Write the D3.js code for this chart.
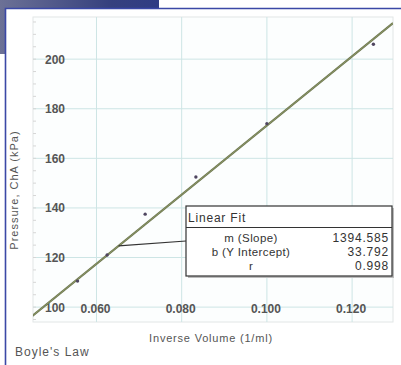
<!DOCTYPE html>
<html>
<head>
<meta charset="utf-8">
<script src="https://cdn.jsdelivr.net/npm/d3@7"></script>
<style>
  body { margin: 0; background: #fff; }
  svg { display: block; font-family: "Liberation Sans", Arial, sans-serif; }
</style>
</head>
<body>
<script>
// Boyle's Law: pressure vs inverse volume, with linear fit

const width = 401;
const height = 365;

// data
const inverseVolume = [1 / 18, 1 / 16, 1 / 14, 1 / 12, 1 / 10, 1 / 8];
const pressure = [110.5, 121, 137.5, 152.5, 174, 206];
const xTicks = [0.060, 0.080, 0.100, 0.120];
const yTicks = [100, 120, 140, 160, 180, 200];
const fitSlope = 1394.585;
const fitIntercept = 33.792;
const fitRows = [["m (Slope)", "1394.585"], ["b (Y Intercept)", "33.792"], ["r", "0.998"]];

const plot = { left: 33, right: 393, top: 17, bottom: 322 };

const svg = d3.select("body").append("svg")
    .attr("width", width)
    .attr("height", height);

// slide decoration in the top-left corner
const grad = svg.append("defs").append("linearGradient")
    .attr("id", "deco")
    .attr("x1", "0%").attr("x2", "100%");
grad.append("stop").attr("offset", "0%").attr("stop-color", "#6c7196");
grad.append("stop").attr("offset", "70%").attr("stop-color", "#35407e");
grad.append("stop").attr("offset", "100%").attr("stop-color", "#2f3c84");

svg.append("rect")
    .attr("x", 0).attr("y", 0)
    .attr("width", 159).attr("height", 54)
    .attr("fill", "url(#deco)");

// white panel with blue border
svg.append("rect")
    .attr("x", 5).attr("y", 8)
    .attr("width", width - 5).attr("height", height - 8)
    .attr("fill", "#fff");
svg.append("path")
    .attr("d", `M5.5,${height} V8.5 H${width}`)
    .attr("fill", "none")
    .attr("stroke", "#3b48a6")
    .attr("stroke-width", 1.6);

const x = d3.scaleLinear().domain([0.0451, 0.1296]).range([plot.left, plot.right]);
const y = d3.scaleLinear().domain([94, 217]).range([plot.bottom, plot.top]);

// plot background + frame
svg.append("rect")
    .attr("x", plot.left).attr("y", plot.top)
    .attr("width", plot.right - plot.left).attr("height", plot.bottom - plot.top)
    .attr("fill", "#fcfefe")
    .attr("stroke", "#e2e6e6");

svg.append("clipPath").attr("id", "clip")
    .append("rect")
    .attr("x", plot.left).attr("y", plot.top)
    .attr("width", plot.right - plot.left).attr("height", plot.bottom - plot.top);

// grid
svg.append("g").selectAll("line.h")
    .data(yTicks)
    .join("line")
    .attr("x1", plot.left).attr("x2", plot.right)
    .attr("y1", d => y(d)).attr("y2", d => y(d))
    .attr("stroke", "#cde5e5");
svg.append("g").selectAll("line.v")
    .data(xTicks)
    .join("line")
    .attr("x1", d => x(d)).attr("x2", d => x(d))
    .attr("y1", plot.top).attr("y2", plot.bottom)
    .attr("stroke", "#cde5e5");

// minor ticks along the left edge
svg.append("g").selectAll("line")
    .data(d3.range(95, 216, 5))
    .join("line")
    .attr("x1", plot.left).attr("x2", plot.left + 3)
    .attr("y1", d => y(d)).attr("y2", d => y(d))
    .attr("stroke", "#d6d6d6");

// tick labels (drawn inside the plot area)
svg.append("g").selectAll("text")
    .data(yTicks)
    .join("text")
    .attr("x", 65)
    .attr("y", d => y(d) + 4.5)
    .attr("text-anchor", "end")
    .attr("font-size", 12)
    .attr("font-weight", "bold")
    .attr("fill", "#555")
    .text(d => d);
svg.append("g").selectAll("text")
    .data(xTicks)
    .join("text")
    .attr("x", d => x(d) - 1)
    .attr("y", 313)
    .attr("text-anchor", "middle")
    .attr("font-size", 12)
    .attr("font-weight", "bold")
    .attr("fill", "#555")
    .text(d => d3.format(".3f")(d));

// fit line
const fit = v => fitSlope * v + fitIntercept;
svg.append("line")
    .attr("clip-path", "url(#clip)")
    .attr("x1", x(0.0440)).attr("y1", y(fit(0.0440)))
    .attr("x2", x(0.1296)).attr("y2", y(fit(0.1296)))
    .attr("stroke", "#6c7550")
    .attr("stroke-width", 2.2);
svg.append("line")
    .attr("clip-path", "url(#clip)")
    .attr("x1", x(0.0440)).attr("y1", y(fit(0.0440)))
    .attr("x2", x(0.1296)).attr("y2", y(fit(0.1296)))
    .attr("stroke", "#93a06a")
    .attr("stroke-width", 0.8);

// data points
svg.append("g").selectAll("circle")
    .data(inverseVolume.map((v, i) => [v, pressure[i]]))
    .join("circle")
    .attr("cx", d => x(d[0]))
    .attr("cy", d => y(d[1]))
    .attr("r", 1.7)
    .attr("fill", "#4f4660");

// fit annotation box
const box = { x: 186, y: 206, w: 206, h: 70 };
const anchorX = 0.0652;
svg.append("line")
    .attr("x1", x(anchorX)).attr("y1", y(fit(anchorX)))
    .attr("x2", box.x).attr("y2", 241)
    .attr("stroke", "#333")
    .attr("stroke-width", 1.2);

const bx = svg.append("g");
bx.append("rect")
    .attr("x", box.x + 2).attr("y", box.y + 2)
    .attr("width", box.w).attr("height", box.h)
    .attr("fill", "#bbb");
bx.append("rect")
    .attr("x", box.x).attr("y", box.y)
    .attr("width", box.w).attr("height", box.h)
    .attr("fill", "#fff")
    .attr("stroke", "#333")
    .attr("stroke-width", 1.2);
bx.append("line")
    .attr("x1", box.x).attr("x2", box.x + box.w)
    .attr("y1", 227.5).attr("y2", 227.5)
    .attr("stroke", "#333")
    .attr("stroke-width", 1.2);
bx.append("text")
    .attr("x", box.x + 2).attr("y", 221.5)
    .attr("font-size", 12)
    .attr("letter-spacing", 0.8)
    .attr("fill", "#333")
    .text("Linear Fit");
bx.selectAll("text.lbl")
    .data(fitRows)
    .join("text")
    .attr("class", "lbl")
    .attr("x", 251)
    .attr("y", (d, i) => 241.5 + i * 14)
    .attr("text-anchor", "middle")
    .attr("font-size", 11.5)
    .attr("letter-spacing", 0.4)
    .attr("fill", "#333")
    .text(d => d[0]);
bx.selectAll("text.val")
    .data(fitRows)
    .join("text")
    .attr("class", "val")
    .attr("x", 389)
    .attr("y", (d, i) => 241.5 + i * 14)
    .attr("text-anchor", "end")
    .attr("font-size", 12)
    .attr("letter-spacing", 0.8)
    .attr("fill", "#333")
    .text(d => d[1]);

// axis titles
svg.append("text")
    .attr("transform", "translate(18,190) rotate(-90)")
    .attr("text-anchor", "middle")
    .attr("font-size", 11)
    .attr("letter-spacing", 1)
    .attr("fill", "#555")
    .text("Pressure, ChA (kPa)");
svg.append("text")
    .attr("x", 211).attr("y", 342)
    .attr("text-anchor", "middle")
    .attr("font-size", 11)
    .attr("letter-spacing", 0.8)
    .attr("fill", "#555")
    .text("Inverse Volume (1/ml)");
svg.append("text")
    .attr("x", 15).attr("y", 356)
    .attr("font-size", 12)
    .attr("letter-spacing", 1)
    .attr("fill", "#555")
    .text("Boyle's Law");
</script>
</body>
</html>
